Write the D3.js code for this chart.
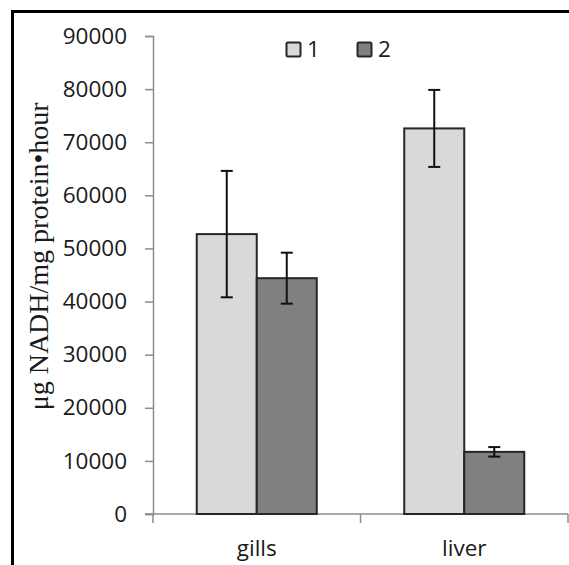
<!DOCTYPE html>
<html>
<head>
<meta charset="utf-8">
<script src="https://cdn.jsdelivr.net/npm/d3@7"></script>
<style>
  body { margin: 0; background: #fff; }
  svg { display: block; }
</style>
</head>
<body>
<div id="chart"></div>
<script>
// Data
const tissues = ["gills", "liver"];
const groups = ["1", "2"];
const means1 = [52700, 72600];
const means2 = [44400, 11700];
const errors1 = [11900, 7250];
const errors2 = [4800, 900];
const yTicks = [0, 10000, 20000, 30000, 40000, 50000, 60000, 70000, 80000, 90000];

const width = 569, height = 565;
const margin = { top: 36, right: 1, bottom: 51, left: 153 };

const svg = d3.select("#chart")
  .append("svg")
  .attr("width", width)
  .attr("height", height);

// Outer frame (clipped at right and bottom, like the source image)
svg.append("rect")
  .attr("x", 12.5)
  .attr("y", 11.5)
  .attr("width", 600)
  .attr("height", 600)
  .attr("fill", "none")
  .attr("stroke", "#000")
  .attr("stroke-width", 3);

const x0 = d3.scaleBand()
  .domain(tissues)
  .range([margin.left, width - margin.right])
  .paddingInner(0)
  .paddingOuter(0);

const x1 = d3.scaleBand()
  .domain(groups)
  .range([0, x0.bandwidth()])
  .paddingInner(0)
  .paddingOuter(0.729);

const y = d3.scaleLinear()
  .domain([0, 90000])
  .range([height - margin.bottom, margin.top]);

const colors = { "1": "#d9d9d9", "2": "#808080" };
const axisColor = "#8c8c8c";
const font = "'Open Sans', 'Liberation Sans', sans-serif";

// Rows for drawing
const rows = [];
tissues.forEach((t, i) => {
  rows.push({ tissue: t, group: "1", value: means1[i], err: errors1[i] });
  rows.push({ tissue: t, group: "2", value: means2[i], err: errors2[i] });
});

// Y axis
const yAxis = svg.append("g")
  .attr("transform", `translate(${margin.left},0)`)
  .call(d3.axisLeft(y).tickValues(yTicks).tickSize(8).tickPadding(18).tickFormat(d3.format("d")));
yAxis.select(".domain").attr("stroke", axisColor).attr("stroke-width", 1.5);
yAxis.selectAll(".tick line").attr("stroke", axisColor).attr("stroke-width", 1.5);
yAxis.selectAll(".tick text")
  .style("font-family", font)
  .style("font-size", "22.5px")
  .attr("fill", "#1a1a1a");

// X axis
const xAxisG = svg.append("g")
  .attr("transform", `translate(0,${y(0)})`);
xAxisG.append("line")
  .attr("x1", x0.range()[0] - 8)
  .attr("x2", x0.range()[1])
  .attr("stroke", axisColor)
  .attr("stroke-width", 1.5);
const boundaries = tissues.map(t => x0(t)).concat([x0.range()[1]]);
xAxisG.selectAll(".xtick")
  .data(boundaries)
  .enter().append("line")
  .attr("class", "xtick")
  .attr("x1", d => d)
  .attr("x2", d => d)
  .attr("y1", 0)
  .attr("y2", 9)
  .attr("stroke", axisColor)
  .attr("stroke-width", 1.5);
xAxisG.selectAll(".xlabel")
  .data(tissues)
  .enter().append("text")
  .attr("class", "xlabel")
  .attr("x", d => x0(d) + x0.bandwidth() / 2)
  .attr("y", 42)
  .attr("text-anchor", "middle")
  .style("font-family", font)
  .style("font-size", "22.5px")
  .attr("fill", "#1a1a1a")
  .text(d => d);

// Bars
svg.selectAll(".bar")
  .data(rows)
  .enter().append("rect")
  .attr("class", "bar")
  .attr("x", d => x0(d.tissue) + x1(d.group))
  .attr("y", d => y(d.value))
  .attr("width", x1.bandwidth())
  .attr("height", d => y(0) - y(d.value))
  .attr("fill", d => colors[d.group])
  .attr("stroke", "#262626")
  .attr("stroke-width", 2);

// Error bars
const capW = 6;
const eb = svg.selectAll(".err")
  .data(rows)
  .enter().append("g")
  .attr("class", "err")
  .attr("transform", d => `translate(${x0(d.tissue) + x1(d.group) + x1.bandwidth() / 2},0)`);
eb.append("line")
  .attr("y1", d => y(d.value + d.err))
  .attr("y2", d => y(d.value - d.err))
  .attr("stroke", "#111")
  .attr("stroke-width", 2);
eb.append("line")
  .attr("x1", -capW).attr("x2", capW)
  .attr("y1", d => y(d.value + d.err))
  .attr("y2", d => y(d.value + d.err))
  .attr("stroke", "#111")
  .attr("stroke-width", 2);
eb.append("line")
  .attr("x1", -capW).attr("x2", capW)
  .attr("y1", d => y(d.value - d.err))
  .attr("y2", d => y(d.value - d.err))
  .attr("stroke", "#111")
  .attr("stroke-width", 2);

// Y label
svg.append("text")
  .attr("transform", `translate(48,${y(48500)}) rotate(-90)`)
  .attr("text-anchor", "middle")
  .style("font-family", "'Liberation Serif', 'DejaVu Serif', serif")
  .style("font-size", "28px")
  .attr("fill", "#1a1a1a")
  .text("\u03bcg NADH/mg protein\u2022hour");

// Legend
const legend = svg.append("g")
  .attr("transform", "translate(286,42)");
const legendItems = legend.selectAll(".legend-item")
  .data(groups)
  .enter().append("g")
  .attr("class", "legend-item")
  .attr("transform", (d, i) => `translate(${i * 71},0)`);
legendItems.append("rect")
  .attr("width", 14)
  .attr("height", 14)
  .attr("x", 0.5)
  .attr("y", 0.5)
  .attr("rx", 1.5)
  .attr("fill", d => colors[d])
  .attr("stroke", "#262626")
  .attr("stroke-width", 2);
legendItems.append("text")
  .attr("x", 21)
  .attr("y", 15)
  .style("font-family", font)
  .style("font-size", "22.5px")
  .attr("fill", "#1a1a1a")
  .text(d => d);
</script>
</body>
</html>
